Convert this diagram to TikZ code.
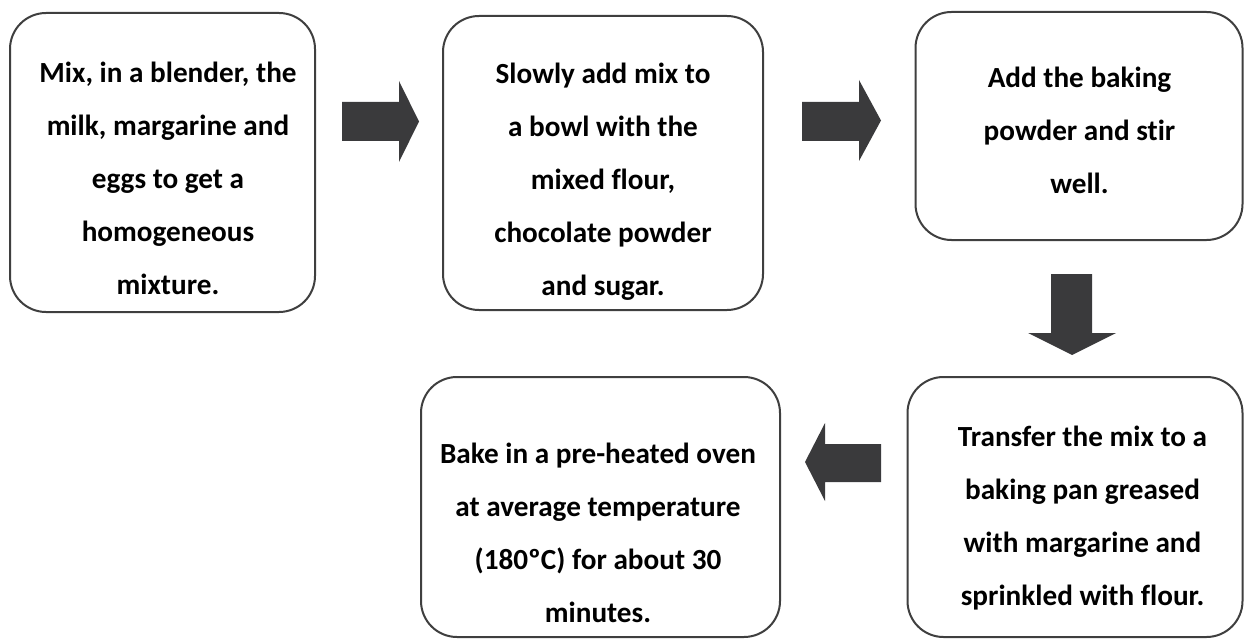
\documentclass[tikz,border=0pt]{standalone}
\usepackage{fontspec}
\setmainfont{Carlito}[Ligatures=NoCommon]
\begin{document}
\begin{tikzpicture}[x=1pt,y=-1pt,
  box/.style={draw=boxgray, line width=2pt, rounded corners=36pt, fill=white, inner sep=0pt},
  txt/.style={align=center, font=\bfseries\fontsize{29.2}{53}\selectfont, text=black, inner sep=0pt},
  blockarrow/.style={fill=arrowgray, draw=none}]
\definecolor{boxgray}{HTML}{3F3F3F}
\definecolor{arrowgray}{HTML}{3A3A3C}
\useasboundingbox (0,0) rectangle (1244,639);
% boxes
\node[box, minimum width=305pt, minimum height=299pt] (b1) at (162.5,162.5) {};
\node[box, minimum width=320pt, minimum height=294pt] (b2) at (603,163) {};
\node[box, minimum width=327pt, minimum height=228pt] (b3) at (1079,126) {};
\node[box, minimum width=335pt, minimum height=260pt] (b4) at (1075,507) {};
\node[box, minimum width=359pt, minimum height=260pt] (b5) at (600.5,507) {};
% texts
\node[txt] (t1) at (168,178) {Mix, in a blender, the\\milk, margarine and\\eggs to get a\\homogeneous\\mixture.};
\node[txt] (t2) at (603,182) {Slowly add mix to\\a bowl with the\\mixed flour,\\chocolate powder\\and sugar.};
\node[txt] (t3) at (1079.5,130) {Add the baking\\powder and stir\\well.};
\node[txt] (t4) at (1082.5,518) {Transfer the mix to a\\baking pan greased\\with margarine and\\sprinkled with flour.};
\node[txt] (t5) at (598,533) {Bake in a pre-heated oven\\at average temperature\\(180ºC) for about 30\\minutes.};
% block arrows
\fill[blockarrow] (342,102) -- (399,102) -- (399,81) -- (419,121.5) -- (399,162) -- (399,141) -- (342,141) -- cycle;
\fill[blockarrow] (802,102) -- (859,102) -- (859,80) -- (881,120.5) -- (859,161) -- (859,141) -- (802,141) -- cycle;
\fill[blockarrow] (1051,274) -- (1092,274) -- (1092,333) -- (1116,333) -- (1072,355) -- (1028,333) -- (1051,333) -- cycle;
\fill[blockarrow] (881,444) -- (825,444) -- (825,423) -- (805,462) -- (825,501) -- (825,482) -- (881,482) -- cycle;
\end{tikzpicture}
\end{document}
